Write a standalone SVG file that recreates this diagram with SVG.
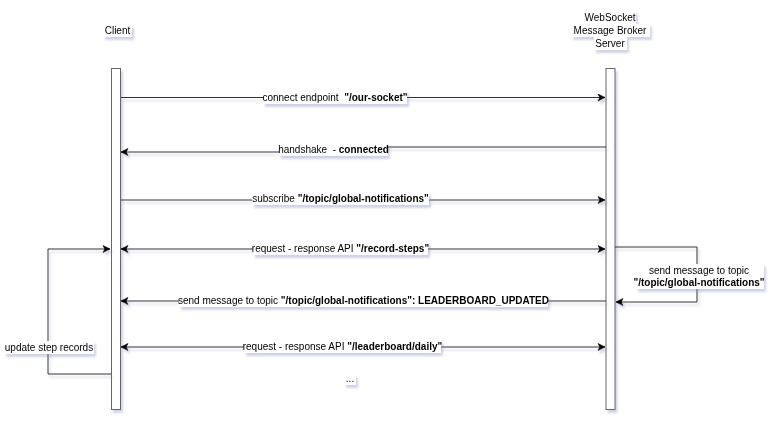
<svg xmlns="http://www.w3.org/2000/svg" width="774" height="421" viewBox="0 0 774 421">
<style>
text{font-family:"Liberation Sans",Arial,Helvetica,sans-serif;font-size:10px;fill:#000}
.c{text-anchor:middle}
.b{font-weight:bold}
.bar{fill:#fff;stroke:#666;stroke-width:1}
.ln{fill:none;stroke:#333;stroke-width:1}
.bg{fill:#fff}
</style>
<defs>
<filter id="sh" filterUnits="userSpaceOnUse" x="0" y="0" width="774" height="421">
<feDropShadow dx="2" dy="3" stdDeviation="1.1" flood-color="#7c82b8" flood-opacity="0.35"/>
</filter>
<marker id="ar" viewBox="-1 -4 9 8" refX="7" refY="0" markerWidth="9" markerHeight="8" markerUnits="userSpaceOnUse" orient="auto-start-reverse">
<path d="M0,-3.5 L7,0 L0,3.5 L1.8,0 Z" fill="#000" stroke="#000" stroke-width="0.6" stroke-linejoin="miter"/>
</marker>
</defs>
<rect width="774" height="421" fill="#fff"/>

<g id="client" filter="url(#sh)">
<rect class="bg" x="103" y="24" width="29" height="13"/>
<text class="c" x="117.5" y="33.5">Client</text>
<rect class="bar" x="111.5" y="68.5" width="9" height="341"/>
</g>

<g id="server" filter="url(#sh)">
<rect class="bg" x="584" y="11" width="52" height="13"/>
<rect class="bg" x="571" y="24" width="79" height="13"/>
<rect class="bg" x="594" y="37" width="33" height="13"/>
<text class="c" x="610" y="21">WebSocket</text>
<text class="c" x="610" y="34">Message Broker</text>
<text class="c" x="610" y="47">Server</text>
<rect class="bar" x="606" y="68.5" width="9" height="341"/>
</g>

<g id="connectors">
<g filter="url(#sh)">
<path class="ln" d="M121,97.5 H605" marker-end="url(#ar)"/>
<path class="ln" d="M606,147 H340 V152 H121" marker-end="url(#ar)"/>
<path class="ln" d="M121,200 H605" marker-end="url(#ar)"/>
<path class="ln" d="M121,249 H605" marker-start="url(#ar)" marker-end="url(#ar)"/>
<path class="ln" d="M606,301 H121" marker-end="url(#ar)"/>
<path class="ln" d="M121,347 H605" marker-start="url(#ar)" marker-end="url(#ar)"/>
<path class="ln" d="M615,247 H697 V302 H616" marker-end="url(#ar)"/>
<path class="ln" d="M111,374 H48 V249 H110" marker-end="url(#ar)"/>
</g>
<g id="labels" filter="url(#sh)">
<rect class="bg" x="263" y="91" width="144" height="13"/>
<text class="c" x="335" y="101"><tspan>connect endpoint &#160;</tspan><tspan class="b">"/our-socket"</tspan></text>

<rect class="bg" x="279" y="143" width="109" height="13"/>
<text class="c" x="333.5" y="153"><tspan>handshake &#160;- </tspan><tspan class="b">connected</tspan></text>

<rect class="bg" x="252" y="192" width="177" height="13"/>
<text class="c" x="340.5" y="202"><tspan>subscribe </tspan><tspan class="b">"/topic/global-notifications"</tspan></text>

<rect class="bg" x="253" y="242" width="175" height="13"/>
<text class="c" x="340.5" y="252"><tspan>request - response API </tspan><tspan class="b">"/record-steps"</tspan></text>

<rect class="bg" x="179" y="294" width="369" height="13"/>
<text class="c" x="363.5" y="304"><tspan>send message to topic </tspan><tspan class="b">"/topic/global-notifications": LEADERBOARD_UPDATED</tspan></text>

<rect class="bg" x="244" y="340" width="197" height="13"/>
<text class="c" x="342.5" y="350"><tspan>request - response API </tspan><tspan class="b">"/leaderboard/daily"</tspan></text>

<rect class="bg" x="636" y="264" width="128" height="25"/>
<text class="c" x="699" y="274">send message to topic</text>
<text class="c b" x="699" y="286">"/topic/global-notifications"</text>

<rect class="bg" x="4" y="341" width="90" height="13"/>
<text class="c" x="49" y="350.5">update step records</text>

<rect class="bg" x="344" y="374" width="12" height="11"/>
<text class="c" x="350" y="382">...</text>
</g>
</g>
</svg>
